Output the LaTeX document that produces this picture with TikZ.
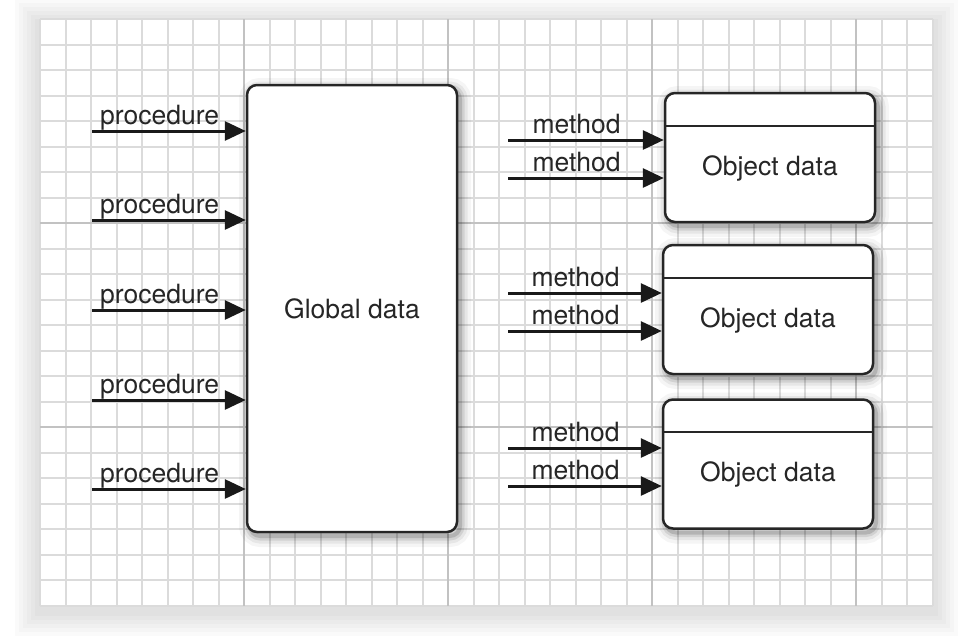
\documentclass[tikz,border=0pt]{standalone}
\usepackage{fontspec}
\setmainfont{TeX Gyre Heros}
\usepackage{tikz}
\usetikzlibrary{arrows.meta,shadows}

\begin{document}
\begin{tikzpicture}[x=1pt, y=-1pt, every node/.style={font=\fontsize{26.5}{30}\selectfont, text=black!85},
	>={Triangle[length=21pt,width=19pt]},
	minor/.style={black!14, line width=2pt},
	major/.style={black!24, line width=1.5pt},
	call/.style={->, line width=3pt, black!90},
	callname/.style={pos=0.44, anchor=base, yshift=7pt, inner sep=0pt},
	softshadow/.style={
		general shadow={draw=black, fill=none, line width=22pt, opacity=.04, shadow xshift=3pt, shadow yshift=-4pt},
		general shadow={draw=black, fill=none, line width=15pt, opacity=.06, shadow xshift=3pt, shadow yshift=-4pt},
		general shadow={draw=black, fill=none, line width=9pt, opacity=.09, shadow xshift=3pt, shadow yshift=-4pt},
		general shadow={draw=black, fill=none, line width=4pt, opacity=.14, shadow xshift=3pt, shadow yshift=-4pt}},
	databox/.style={draw=black!85, line width=2.5pt, fill=white, rounded corners=10pt, softshadow}]
	\useasboundingbox (0,0) rectangle (969,635);
	\foreach \w in {50,42,34,26,18,10}
		\draw[black, line width=\w pt, opacity=.02] (40,24) rectangle (932.5,610.5);
	\fill[white] (40,19) rectangle (932.5,605.5);
	\foreach \i in {0,...,35}
		\draw[minor] ({40+25.5*\i},19) -- ++(0,586.5);
	\foreach \j in {0,...,23}
		\draw[minor] (40,{19+25.5*\j}) -- ++(892.5,0);
	\foreach \i in {8,16,24,32}
		\draw[major] ({40+25.5*\i},19) -- ++(0,586.5);
	\foreach \j in {8,16}
		\draw[major] (40,{19+25.5*\j}) -- ++(892.5,0);
	\node[databox, minimum width=210pt, minimum height=447pt] (global) at (352,308.5) {Global data};
	\foreach \n/\cx/\cy in {1/770/157.5, 2/768/309.5, 3/768/464} {
		\node[databox, minimum width=210pt, minimum height=129pt] (obj\n) at (\cx,\cy) {};
		\draw[line width=2pt, black!85] ([yshift=-34pt]obj\n.north west) -- ([yshift=-34pt]obj\n.north east);
		\node (objtext\n) at ([yshift=-10.5pt]obj\n.center) {Object data};
	}
	\foreach \k/\py in {1/131, 2/220, 3/310, 4/400, 5/489} {
		\coordinate (proc\k) at (92,\py);
		\draw[call] (proc\k) -- (proc\k -| global.west) node[callname] {procedure};
	}
	\foreach \n/\ya/\yb in {1/140/178, 2/293/331, 3/448/486} {
		\coordinate (metha\n) at (508,\ya);
		\coordinate (methb\n) at (508,\yb);
		\draw[call] (metha\n) -- (metha\n -| obj\n.west) node[callname] {method};
		\draw[call] (methb\n) -- (methb\n -| obj\n.west) node[callname] {method};
	}
\end{tikzpicture}
\end{document}
